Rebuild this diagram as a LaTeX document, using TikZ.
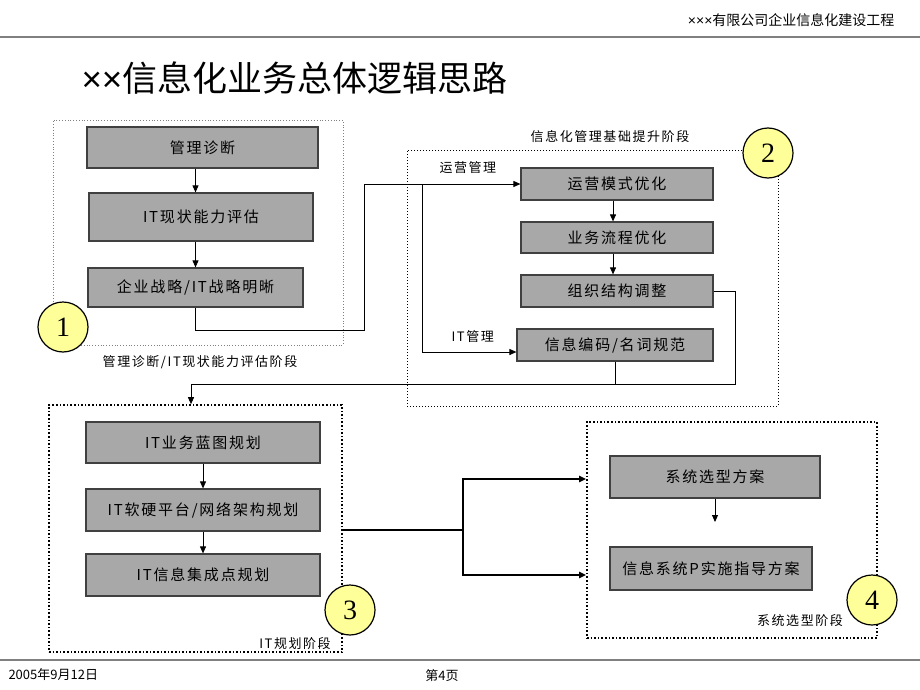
\documentclass[tikz,border=0pt]{standalone}
\usepackage{fontspec}
\setmainfont{Noto Sans CJK SC}
\newfontfamily\boxfont[LetterSpace=12]{Noto Sans CJK SC}
\newfontfamily\numfont{Liberation Serif}
\newfontfamily\signfont{Liberation Sans}
\usetikzlibrary{arrows.meta}
\definecolor{boxgray}{RGB}{168,168,168}
\definecolor{boxedge}{RGB}{64,64,64}
\definecolor{ballyellow}{RGB}{255,255,153}

\begin{document}
\begin{tikzpicture}[x=1pt,y=-1pt,
		task/.style={draw=boxedge,line width=1.2pt,fill=boxgray,inner sep=0pt,font=\boxfont\fontsize{15}{15}\selectfont},
		phase/.style={draw,dotted,line width=1pt,inner sep=0pt},
		ball/.style={circle,draw,line width=1.2pt,fill=ballyellow,minimum size=50pt,inner sep=0pt,font=\numfont\fontsize{28}{28}\selectfont},
		tag/.style={font=\boxfont\fontsize{13}{13}\selectfont},
		link/.style={line width=0.9pt},
		go/.style={link,-{Triangle[length=7pt,width=6pt]}}]
			\useasboundingbox (0,0) rectangle (920,690);
			
			\node[anchor=east,font=\fontsize{14}{14}\selectfont] (header) at (898,20) {{\signfont ×××}有限公司企业信息化建设工程};
			\draw[gray,line width=2pt] (0,37) -- (920,37);
			\node[anchor=west,font=\fontsize{35}{35}\selectfont] (title) at (78,78) {{\signfont ××}信息化业务总体逻辑思路};
			
			\node[phase,draw=gray,line width=0.8pt,minimum width=290pt,minimum height=225pt] (s1) at (198,232.5) {};
			\node[phase,minimum width=371pt,minimum height=256pt] (s2) at (592.5,278) {};
			\node[phase,line width=1.6pt,minimum width=293pt,minimum height=247pt] (s3) at (195.5,528.5) {};
			\node[phase,line width=1.6pt,minimum width=290pt,minimum height=216pt] (s4) at (732,530) {};
			
			\node[task,minimum width=231pt,minimum height=41pt] (diag) at (202.5,147.5) {管理诊断};
			\node[task,minimum width=224pt,minimum height=48pt] (eval) at (201,217) {IT现状能力评估};
			\node[task,minimum width=215pt,minimum height=39pt] (strat) at (195.5,287.5) {企业战略/IT战略明晰};
			
			\draw[go] (diag.south -| strat) -- (eval.north -| strat);
			\draw[go] (eval.south -| strat) -- (strat.north);
			
			\node[task,minimum width=192pt,minimum height=32pt] (oper) at (617,184) {运营模式优化};
			\node[task,minimum width=192pt,minimum height=31pt] (flow) at (617,237.5) {业务流程优化};
			\node[task,minimum width=192pt,minimum height=32pt] (org) at (617,291) {组织结构调整};
			\node[task,minimum width=196pt,minimum height=32pt] (code) at (615,345) {信息编码/名词规范};
			
			\coordinate (down2) at (613,0);
			\draw[go] (oper.south -| down2) -- (flow.north -| down2);
			\draw[go] (flow.south -| down2) -- (org.north -| down2);
			
			\node[task,minimum width=234pt,minimum height=41pt] (blue) at (203,442.5) {IT业务蓝图规划};
			\node[task,minimum width=234pt,minimum height=42pt] (arch) at (203,510) {IT软硬平台/网络架构规划};
			\node[task,minimum width=234pt,minimum height=42pt] (integ) at (203,575) {IT信息集成点规划};
			
			\draw[go] (blue.south) -- (arch.north);
			\draw[go] (arch.south) -- (integ.north);
			
			\node[task,minimum width=210pt,minimum height=42pt] (select) at (715,477) {系统选型方案};
			\node[task,minimum width=202pt,minimum height=43pt] (guide) at (711,568.5) {信息系统P实施指导方案};
			
			\coordinate (stop4) at (715,522);
			\draw[go] (select.south) -- (stop4);
			
			\coordinate (bend1) at (364,330);
			\coordinate (fork1) at (422,184);
			\coordinate (fork2) at (422,352);
			\draw[link] (strat.south) |- (bend1) |- (fork1);
			\draw[go] (fork1) -- (oper.west);
			\draw[go] (fork1) |- (code.west |- fork2);
			
			\coordinate (ret1) at (735,384);
			\coordinate (drop3) at (191,384);
			\draw[link] (org.east) -| (ret1) -- (code.south |- ret1);
			\draw[link] (code.south) |- (drop3);
			\draw[go] (drop3) -- (s3.north -| drop3);
			
			\coordinate (split) at (463,530);
			\draw[link,line width=1.8pt] (s3.east |- split) -- (split);
			\draw[go,line width=1.8pt] (split) |- (s4.west |- 0,479);
			\draw[go,line width=1.8pt] (split) |- (s4.west |- 0,575);
			
			\node[tag] (tag1) at (200,362) {管理诊断/IT现状能力评估阶段};
			\node[tag] (tag2) at (610,137) {信息化管理基础提升阶段};
			\node[tag] (tag3) at (295,644) {IT规划阶段};
			\node[tag] (tag4) at (800,621) {系统选型阶段};
			\node[tag,anchor=west] (opertag) at (436,168) {运营管理};
			\node[tag,anchor=west] (ittag) at (448,337) {IT管理};
			
			\node[ball] (n1) at (63,327) {1};
			\node[ball] (n2) at (768,153) {2};
			\node[ball] (n3) at (350,610) {3};
			\node[ball] (n4) at (872,600) {4};
			
			\draw[gray,line width=2pt] (0,660) -- (920,660);
			\node[anchor=west,font=\fontsize{13}{13}\selectfont] (date) at (5,675) {2005年9月12日};
			\node[font=\fontsize{13}{13}\selectfont] (page) at (442,676) {第4页};
	
		\end{tikzpicture}
\end{document}
